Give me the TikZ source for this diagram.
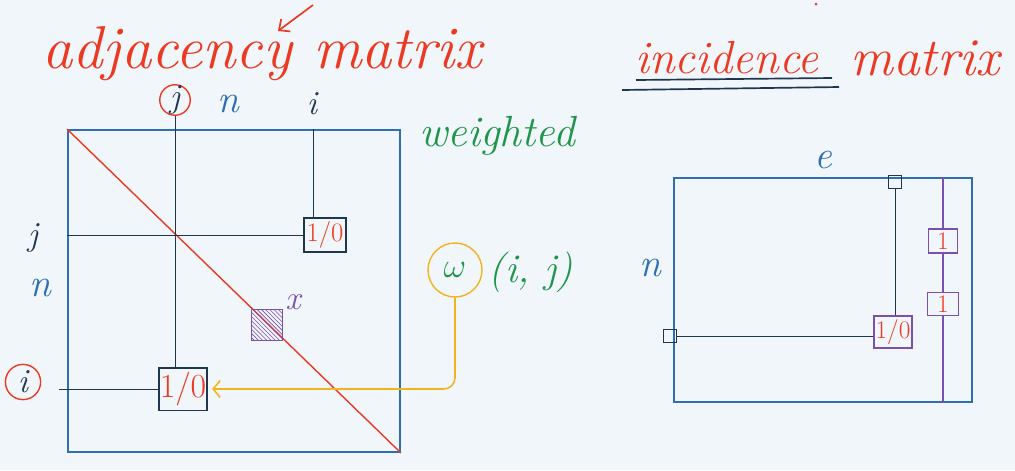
\documentclass[tikz,border=0pt]{standalone}
\usepackage{fontspec}
\usetikzlibrary{arrows.meta,patterns}
\definecolor{board}{HTML}{F1F6FB}
\definecolor{penblue}{HTML}{2F6EB3}
\definecolor{pennavy}{HTML}{1F3550}
\definecolor{penred}{HTML}{EC3A22}
\definecolor{pengreen}{HTML}{1E9549}
\definecolor{penpurple}{HTML}{7A4FB0}
\definecolor{penyellow}{HTML}{F3B31C}
\begin{document}
\begin{tikzpicture}[x=0.025cm, y=-0.025cm,
    frame/.style={draw=penblue, line width=1.3pt, inner sep=0pt},
    grid line/.style={pennavy, line width=0.7pt},
    cell/.style={draw=pennavy, line width=1.3pt, inner sep=0pt, text=penred},
    pcell/.style={draw=penpurple, line width=1pt, inner sep=0pt, text=penred},
    tiny cell/.style={draw=pennavy, line width=0.8pt, minimum size=0.33cm, inner sep=0pt},
    ring/.style={circle, draw, line width=1pt, inner sep=0pt},
    big/.style={font=\fontsize{28}{30}\selectfont\itshape},
    mid/.style={font=\fontsize{24}{26}\selectfont\itshape}
]
    \useasboundingbox (0,0) rectangle (1015,470);
    \fill[board] (0,0) rectangle (1015,470);

    % titles
    \node[penred, font=\fontsize{43}{46}\selectfont\itshape] (adjt) at (262,54) {adjacency matrix};
    \coordinate (arrtail) at (313,5);
    \coordinate (arrtip) at (278,31);
    \draw[penred, line width=1.2pt, -{Straight Barb[length=6pt,width=11pt]}] (arrtail) -- (arrtip);
    \node[penred, font=\fontsize{33}{36}\selectfont\itshape] (incw) at (727,58) {incidence};
    \node[penred, font=\fontsize{38}{40}\selectfont\itshape] (incm) at (925,58) {matrix};
    \draw[pennavy, line width=1.2pt] (636,80) -- (832,78);
    \draw[pennavy, line width=1.2pt] (622,90) -- (839,87);
    \fill[penred] (816,4) circle (1.5);

    % adjacency matrix
    \node[frame, minimum width=8.3cm, minimum height=8.05cm] (adj) at (234,291) {};
    \draw[penred, line width=1pt] (adj.north west) -- (adj.south east);
    \node[ring, draw=penred, minimum size=0.75cm, text=pennavy, mid] (jc) at (175,100) {j};
    \node[penblue, big] (ntop) at (228,104) {n};
    \node[pennavy, mid] (itop) at (312,104) {i};
    \node[pennavy, mid] (jleft) at (33,238) {j};
    \node[penblue, big] (nleft) at (40,288) {n};
    \node[ring, draw=penred, minimum size=0.88cm, text=pennavy, mid] (ic) at (23,382) {i};

    \node[cell, minimum width=1.2cm, minimum height=1.07cm, font=\fontsize{24}{26}\selectfont] (e1) at (183,389) {1/0};
    \node[cell, minimum width=1.07cm, minimum height=0.87cm, font=\fontsize{19}{21}\selectfont] (e2) at (325,235) {1/0};
    \node[draw=penpurple, line width=1pt, pattern=north west lines, pattern color=penpurple,
        minimum size=0.78cm, inner sep=0pt] (hs) at (267,325) {};
    \node[penpurple, mid] (xl) at (293,302) {x};

    \draw[grid line] (jc.south) -- (jc.south |- e1.north);
    \draw[grid line] (e1.west) -- ([xshift=-0.2cm]adj.west |- e1.west);
    \draw[grid line] (adj.west |- e2.west) -- (e2.west);
    \coordinate (icol) at ([xshift=-0.3cm]e2.north);
    \draw[grid line] (icol) -- (icol |- adj.north);

    % weights
    \node[pengreen, font=\fontsize{31}{34}\selectfont\itshape] (wt) at (497,136) {weighted};
    \node[ring, draw=penyellow, minimum size=1.35cm, text=pengreen,
        font=\fontsize{32}{34}\selectfont] (wc) at (455,270) {$\omega$};
    \node[pengreen, font=\fontsize{29}{31}\selectfont\itshape, anchor=west] (wij) at (484,272) {(i, j)};
    \draw[penyellow, line width=1.1pt, rounded corners=8pt,
        -{Straight Barb[length=5pt,width=12pt]}] (wc.south) |- ([xshift=3pt]e1.east);

    % incidence matrix
    \node[penblue, big] (nright) at (650,268) {n};
    \node[penblue, big] (etop) at (823,160) {e};
    \node[frame, minimum width=7.45cm, minimum height=5.6cm] (inc) at (823,290) {};
    \node[tiny cell] (tt) at (895,182) {};
    \node[tiny cell] (tl) at (670,336) {};
    \node[pcell, minimum width=0.95cm, minimum height=0.8cm, font=\fontsize{18}{20}\selectfont] (e3) at (893,332) {1/0};
    \node[pcell, minimum width=0.72cm, minimum height=0.6cm, font=\fontsize{18}{20}\selectfont] (p1) at (943,241) {1};
    \node[pcell, minimum width=0.78cm, minimum height=0.58cm, font=\fontsize{18}{20}\selectfont] (p2) at (943,304) {1};
    \draw[grid line] (tt.south) -- (tt.south |- e3.north);
    \draw[grid line] (tl.east) -- (tl.east -| e3.west);
    \draw[penpurple, line width=0.9pt] (inc.north -| p1) -- (p1.north);
    \draw[penpurple, line width=0.9pt] (p1.south) -- (p2.north);
    \draw[penpurple, line width=0.9pt] (p2.south) -- (inc.south -| p2);
\end{tikzpicture}
\end{document}
